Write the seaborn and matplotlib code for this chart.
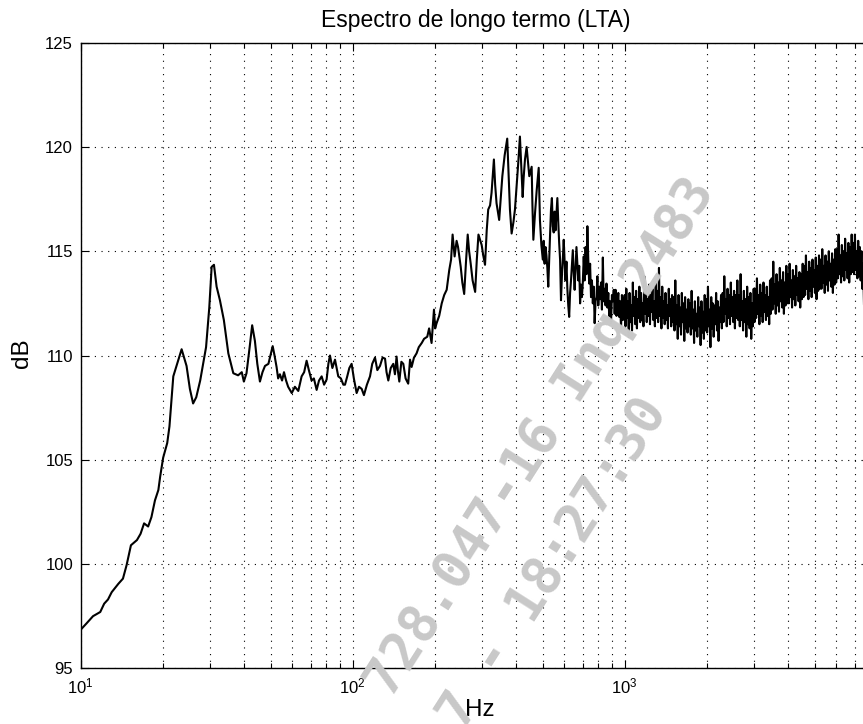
import numpy as np
import pandas as pd
import matplotlib
matplotlib.use("Agg")
import matplotlib.pyplot as plt
import seaborn as sns
from matplotlib.ticker import LogLocator, LogFormatterSciNotation, NullFormatter, FixedLocator

# ---------------- data ----------------
# low / mid band, 10 Hz .. ~500 Hz
freq_hz = [
    10.0, 10.5, 11.1, 11.8, 12.2, 12.6, 13.0, 13.75, 14.3, 14.75, 15.3, 16.1, 16.6, 17.1, 17.7,
    18.2, 18.75, 19.3, 19.6, 20.1, 20.8, 21.2, 21.6, 21.9, 22.5, 23.5, 24.5, 25.2, 25.9, 26.6,
    27.5, 28.9, 29.7, 30.3, 30.9, 31.6, 32.5, 33.6, 34.9, 36.4, 37.9, 39.1, 39.8, 40.7, 41.8,
    42.7, 43.7, 44.6, 45.6, 46.6, 47.6, 49.0, 50.8, 51.6, 52.5, 53.2, 54.0, 55.0, 55.9, 56.9,
    57.9, 59.7, 61.3, 63.1, 64.9, 66.3, 67.7, 69.0, 70.6, 72.0, 73.7, 75.2, 76.9, 78.5, 80.2,
    81.4, 82.5, 84.2, 86.1, 88.5, 90.5, 92.4, 93.7, 95.5, 97.2, 99.1, 101.0, 103.4, 105.5, 107.9,
    110.0, 112.8, 115.8, 118.0, 120.8, 123.2, 126.0, 128.8, 131.5, 133.2, 135.2, 138.0, 141.0, 143.0, 145.0,
    146.5, 148.4, 151.0, 153.5, 156.5, 160.0, 162.5, 164.7, 168.0, 171.7, 175.0, 179.4, 183.0, 188.0, 191.0,
    195.0, 199.0, 201.0, 203.5, 208.0, 212.5, 217.0, 221.6, 226.5, 230.0, 233.0, 237.0, 241.0, 244.0, 249.6,
    253.0, 257.0, 261.0, 264.8, 268.0, 271.6, 276.0, 282.0, 286.0, 290.0, 298.0, 302.0, 306.6, 311.0, 315.0,
    320.0, 324.0, 330.5, 334.0, 338.0, 345.6, 350.0, 355.0, 362.0, 370.0, 374.0, 378.6, 384.0, 390.0, 395.0,
    400.0, 406.0, 412.0, 417.0, 421.7, 425.0, 430.0, 436.0, 441.0, 446.0, 455.0, 458.0, 461.6, 468.0, 475.0,
    483.0, 488.0, 494.0,
]
level_db = [
    96.85, 97.15, 97.5, 97.7, 98.1, 98.3, 98.65, 99.05, 99.3, 99.95, 100.9, 101.15, 101.45, 101.95, 101.8,
    102.25, 103.05, 103.55, 104.2, 105.1, 105.8, 106.6, 108.0, 109.0, 109.5, 110.3, 109.5, 108.4, 107.7, 108.0,
    108.8, 110.4, 112.3, 114.25, 114.35, 113.3, 112.65, 111.7, 110.1, 109.15, 109.05, 109.2, 108.75, 109.15, 110.4,
    111.45, 110.7, 109.6, 108.75, 109.2, 109.5, 109.6, 110.45, 110.0, 109.45, 108.9, 109.1, 108.8, 109.2, 108.8,
    108.5, 108.2, 108.5, 108.3, 109.0, 109.2, 109.75, 109.3, 108.8, 108.9, 108.35, 108.8, 109.0, 108.6, 108.85,
    109.6, 110.0, 109.4, 109.8, 109.0, 108.9, 108.6, 108.6, 109.0, 109.4, 109.6, 108.9, 108.2, 108.5, 108.4,
    108.1, 108.6, 109.0, 109.6, 109.9, 109.3, 109.5, 109.9, 109.85, 109.2, 108.8, 109.4, 109.6, 109.1, 109.95,
    109.3, 108.75, 109.7, 109.6, 108.9, 108.65, 109.8, 109.45, 109.9, 110.1, 110.4, 110.6, 110.8, 110.9, 111.3,
    110.6, 112.2, 111.3, 111.55, 111.9, 112.5, 112.9, 113.15, 114.1, 114.6, 115.8, 114.75, 115.5, 115.2, 114.25,
    113.5, 112.95, 114.5, 115.8, 115.0, 114.4, 113.6, 113.05, 114.6, 115.8, 115.3, 114.8, 114.35, 116.0, 117.0,
    117.2, 117.8, 119.4, 118.2, 117.3, 116.5, 117.5, 118.6, 119.6, 120.4, 118.8, 117.0, 115.85, 116.4, 117.0,
    118.0, 119.2, 120.5, 119.0, 117.6, 118.5, 119.4, 120.0, 119.3, 118.6, 119.05, 117.2, 115.55, 116.8, 117.95,
    119.0, 116.5, 115.3,
]

# dense band 500 Hz .. 1 kHz (values of the jagged line)
mid_start_hz, mid_stop_hz = 500.0, 1000.0
mid_level_db = [
    114.6, 115.5, 114.4, 115.2, 114.8, 114.2, 113.3, 114.6, 115.8, 117.0,
    117.55, 116.2, 115.9, 116.9, 116.0, 116.8, 117.55, 116.4, 115.4, 114.6,
    112.65, 113.8, 114.6, 115.55, 114.5, 113.6, 114.5, 113.2, 112.4, 111.85,
    113.0, 113.6, 114.3, 115.05, 114.0, 113.15, 114.2, 115.2, 114.4, 113.6,
    114.3, 112.5, 113.4, 112.8, 113.5, 114.75, 113.6, 115.2, 113.9, 116.2,
    114.6, 113.45, 114.4, 112.8, 113.6, 112.5, 113.3, 111.55, 112.6, 112.8,
    113.8, 112.4, 113.3, 112.7, 113.5, 112.2, 114.7, 112.6, 113.2, 112.4,
    113.45, 112.3, 113.0, 111.9, 112.6, 111.55, 112.9, 112.6, 113.15, 112.0,
    113.15, 111.9, 112.4, 113.0, 111.85, 112.6, 111.3, 112.9, 111.7, 112.5,
]

# dense band 1 kHz .. 7.9 kHz (noisy band)
hf_start_hz, hf_stop_hz = 1000.0, 7900.0
hf_level_db = [
    112.9, 111.4, 113.2, 111.8, 112.6, 110.9, 113.0, 111.6, 112.4, 111.2, 113.5, 111.9, 112.8, 111.5, 113.1, 111.3, 112.7, 111.8, 113.3, 111.6,
    113.0, 111.7, 112.5, 111.4, 113.8, 112.0, 113.1, 111.6, 112.7, 111.9, 113.4, 111.5, 112.9, 112.1, 113.2, 111.7, 112.6, 111.4, 113.5, 111.8,
    113.1, 111.6, 114.2, 111.9, 112.8, 111.3, 113.3, 111.8, 112.6, 111.5, 113.0, 111.7, 112.4, 111.3, 113.2, 111.9, 112.7, 111.4, 112.9, 111.6,
    112.8, 111.2, 113.6, 111.5, 112.4, 110.8, 112.9, 111.4, 112.3, 111.0, 113.0, 111.6, 112.5, 110.7, 112.8, 111.3, 112.2, 111.1, 112.7, 111.4,
    112.5, 111.0, 113.1, 111.3, 112.2, 110.6, 112.6, 111.2, 112.0, 110.9, 112.8, 111.4, 112.3, 110.5, 112.6, 111.1, 112.1, 110.8, 112.9, 111.2,
    112.7, 111.1, 113.3, 111.4, 112.2, 110.4, 112.8, 111.3, 112.5, 110.9, 112.4, 111.5, 113.0, 111.2, 112.6, 110.7, 112.3, 111.6, 112.9, 111.3,
    113.0, 111.6, 113.8, 112.0, 112.7, 111.4, 113.2, 111.8, 112.9, 111.5, 113.5, 111.9, 112.8, 111.6, 113.1, 111.3, 112.9, 111.8, 113.6, 111.7,
    112.9, 111.4, 113.9, 111.7, 112.6, 111.2, 113.1, 111.6, 112.7, 110.9, 113.3, 111.5, 112.8, 111.3, 113.0, 110.8, 112.5, 111.4, 113.2, 111.6,
    113.2, 111.8, 113.7, 112.0, 112.9, 111.5, 113.4, 111.9, 113.0, 111.6, 113.5, 112.1, 112.9, 111.7, 113.3, 111.9, 112.8, 111.5, 113.6, 112.0,
    113.7, 112.2, 114.5, 112.5, 113.4, 112.0, 113.9, 112.4, 113.5, 112.1, 114.2, 112.6, 113.6, 112.3, 114.0, 112.0, 113.5, 112.4, 114.3, 112.5,
    113.9, 112.5, 114.4, 112.8, 113.6, 112.3, 114.1, 112.7, 113.8, 112.4, 114.3, 112.9, 113.7, 112.6, 114.0, 112.3, 113.9, 112.7, 114.4, 112.8,
    114.3, 112.9, 114.8, 113.2, 114.0, 112.7, 114.5, 113.1, 114.2, 112.8, 114.6, 113.3, 114.1, 113.0, 114.7, 112.7, 114.3, 113.1, 114.8, 113.2,
    114.6, 113.2, 115.1, 113.5, 114.3, 113.0, 114.8, 113.4, 114.5, 113.1, 115.0, 113.6, 114.4, 113.3, 114.9, 113.0, 114.6, 113.4, 115.1, 113.5,
    115.1, 113.7, 115.8, 113.9, 114.8, 113.5, 115.3, 113.8, 115.0, 113.6, 115.6, 114.1, 114.9, 113.7, 115.4, 113.5, 115.2, 113.9, 115.8, 114.0,
    115.4, 113.9, 115.8, 114.1, 115.0, 113.7, 115.5, 113.8, 115.2, 113.6, 115.0, 113.2, 114.4, 112.5, 111.8, 111.2, 110.6, 110.3, 110.0, 109.8,
]

title_text = "Espectro de longo termo (LTA)"
x_label = "Hz"
y_label = "dB"
y_ticks = [95, 100, 105, 110, 115, 120, 125]
x_limits = (10, 8000)
y_limits = (95, 125)
watermark_lines = ["728.047-16 Inq 2483", "7 - 18:27:30"]

# ---------------- style ----------------
sns.set_theme(style="ticks")
plt.rcParams["font.family"] = ["Liberation Sans", "DejaVu Sans"]
plt.rcParams["mathtext.default"] = "regular"

W, H = 863, 724
fig = plt.figure(figsize=(W / 100, H / 100), dpi=100)
fig.patch.set_facecolor("white")
ax_left, ax_right, ax_top, ax_bottom = 80.7, 870.3, 42.7, 668.3
ax = fig.add_axes([ax_left / W, 1 - ax_bottom / H, (ax_right - ax_left) / W, (ax_bottom - ax_top) / H])
ax.set_facecolor("white")

mid_freq = np.geomspace(mid_start_hz, mid_stop_hz, len(mid_level_db), endpoint=False)
hf_freq = np.geomspace(hf_start_hz, hf_stop_hz, len(hf_level_db))
df = pd.DataFrame({
    "Hz": np.concatenate([np.asarray(freq_hz), mid_freq, hf_freq]),
    "dB": np.concatenate([np.asarray(level_db), np.asarray(mid_level_db), np.asarray(hf_level_db)]),
})
sns.lineplot(data=df, x="Hz", y="dB", ax=ax, color="black", linewidth=1.5,
             sort=False, estimator=None, zorder=3)

ax.set_xscale("log")
ax.set_xlim(*x_limits)
ax.set_ylim(*y_limits)
ax.xaxis.set_major_locator(LogLocator(base=10, numticks=10))
ax.xaxis.set_minor_locator(LogLocator(base=10, subs=np.arange(2, 10), numticks=40))
ax.xaxis.set_major_formatter(LogFormatterSciNotation())
ax.xaxis.set_minor_formatter(NullFormatter())
ax.yaxis.set_major_locator(FixedLocator(y_ticks))

dot = (0, (1, 5))
ax.grid(True, which="major", axis="both", color="black", linestyle=dot, linewidth=0.8)
ax.grid(True, which="minor", axis="x", color="black", linestyle=dot, linewidth=0.8)
ax.set_axisbelow(True)

for s in ax.spines.values():
    s.set_visible(True)
    s.set_color("black")
    s.set_linewidth(1.0)

ax.tick_params(which="both", direction="in", top=True, right=True, bottom=True, left=True,
               color="black", width=0.8, labelcolor="black")
ax.tick_params(which="major", length=6)
ax.tick_params(which="minor", length=3.5)
ax.tick_params(axis="y", labelsize=12, pad=5.5)
ax.tick_params(axis="x", labelsize=12, pad=6)

ax.set_xlabel(x_label, fontsize=17.5, color="black")
ax.xaxis.set_label_coords(0.5057, -0.049)
ax.set_ylabel(y_label, fontsize=17.5, color="black")
ax.yaxis.set_label_coords(-0.0604, 0.504)
ax.set_title(title_text, fontsize=16.5, pad=11, color="black")

# watermark stamp
wm_centers = [(541, 438), (554, 564)]
for txt, (cx, cy) in zip(watermark_lines, wm_centers):
    fig.text(cx / W, 1 - cy / H, txt, rotation=57.5, rotation_mode="anchor",
             ha="center", va="center", fontsize=38, family="DejaVu Sans Mono",
             fontweight="bold", color="#c8c8c8", zorder=10)

fig.savefig("out.png", dpi=100, facecolor="white")
